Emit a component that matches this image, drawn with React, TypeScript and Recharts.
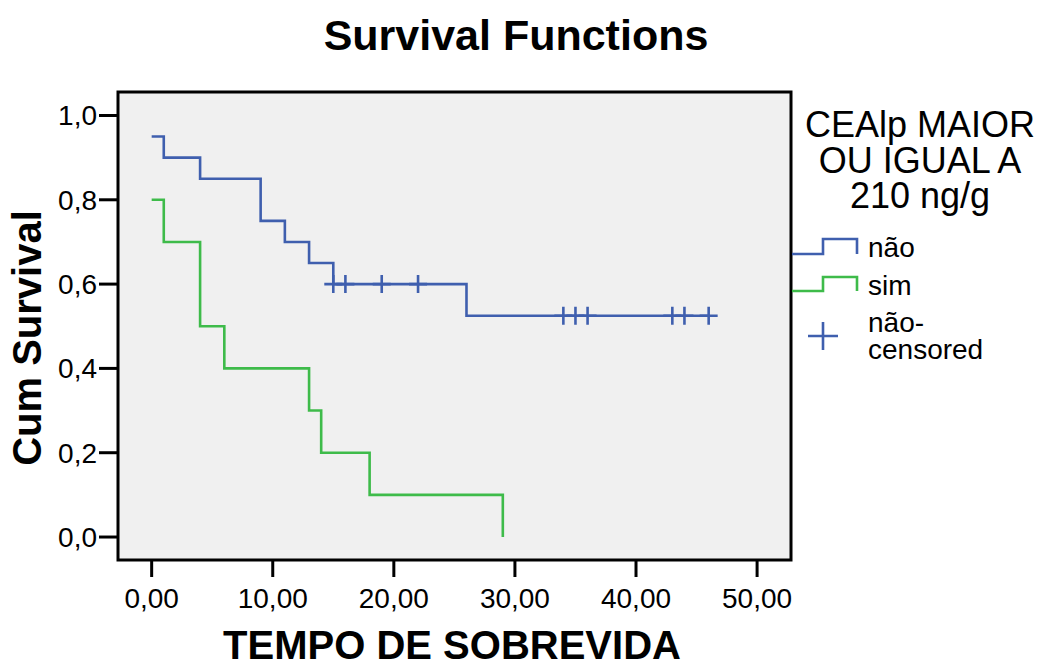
import React from "react";
import {
  ComposedChart,
  Line,
  Scatter,
  XAxis,
  YAxis,
  CartesianGrid,
  ReferenceArea,
} from "recharts";

// Kaplan-Meier step points (time, cumulative survival)
const naoTimes = [0, 1, 4, 9, 11, 13, 15, 26, 46];
const naoSurv = [0.95, 0.9, 0.85, 0.75, 0.7, 0.65, 0.6, 0.525, 0.525];
const simTimes = [0, 1, 4, 6, 13, 14, 18, 29];
const simSurv = [0.8, 0.7, 0.5, 0.4, 0.3, 0.2, 0.1, 0.0];
// censored observations in group "não"
const censTimes = [15, 16, 19, 22, 34, 35, 36, 43, 44, 46];
const censSurv = [0.6, 0.6, 0.6, 0.6, 0.525, 0.525, 0.525, 0.525, 0.525, 0.525];

const xTicks = [0, 10, 20, 30, 40, 50];
const yTicks = [0, 0.2, 0.4, 0.6, 0.8, 1.0];

const naoData = naoTimes.map((t, i) => ({ t, s: naoSurv[i] }));
const simData = simTimes.map((t, i) => ({ t, s: simSurv[i] }));
const censData = censTimes.map((t, i) => ({ t, s: censSurv[i] }));

const BLUE = "#3f5fae";
const GREEN = "#3ebb4a";
const FONT = "'Liberation Sans', Arial, sans-serif";

const X_DOMAIN: [number, number] = [-2.78, 52.8];
const Y_DOMAIN: [number, number] = [-0.0545, 1.0557];

const Plus = (props: any) => {
  const { cx, cy } = props;
  if (cx == null || cy == null) return null;
  return (
    <path
      d={`M${cx - 9},${cy}H${cx + 9}M${cx},${cy - 9}V${cy + 9}`}
      stroke={BLUE}
      strokeWidth={2.6}
      fill="none"
    />
  );
};

export default function App() {
  return (
    <div style={{ position: "absolute", left: 0, top: 0, width: 1037, height: 663, background: "#fff" }}>
      <ComposedChart
        width={1037}
        height={663}
        margin={{ top: 92, right: 246, bottom: 43, left: 18 }}
      >
        <CartesianGrid fill="#f0f0f0" horizontal={false} vertical={false} />
        <XAxis
          type="number"
          dataKey="t"
          domain={X_DOMAIN}
          allowDataOverflow
          ticks={xTicks}
          interval={0}
          height={60}
          axisLine={false}
          tickLine={{ stroke: "#000", strokeWidth: 3 }}
          tickSize={17}
          tickMargin={11}
          tick={{ fill: "#000", fontSize: 28, fontFamily: FONT }}
          tickFormatter={(v: number) => v.toFixed(2).replace(".", ",")}
        />
        <YAxis
          type="number"
          domain={Y_DOMAIN}
          allowDataOverflow
          ticks={yTicks}
          interval={0}
          width={100}
          axisLine={false}
          tickLine={{ stroke: "#000", strokeWidth: 3 }}
          tickSize={19}
          tickMargin={2}
          tick={{ fill: "#000", fontSize: 28, fontFamily: FONT }}
          tickFormatter={(v: number) => v.toFixed(1).replace(".", ",")}
        />
        <ReferenceArea
          x1={X_DOMAIN[0]}
          x2={X_DOMAIN[1]}
          y1={Y_DOMAIN[0]}
          y2={Y_DOMAIN[1]}
          fill="none"
          stroke="#000"
          strokeWidth={3}
          ifOverflow="visible"
        />
        <Line
          data={naoData}
          dataKey="s"
          type="stepAfter"
          stroke={BLUE}
          strokeWidth={2.6}
          dot={false}
          activeDot={false}
          isAnimationActive={false}
        />
        <Line
          data={simData}
          dataKey="s"
          type="stepAfter"
          stroke={GREEN}
          strokeWidth={2.6}
          dot={false}
          activeDot={false}
          isAnimationActive={false}
        />
        <Scatter
          data={censData}
          dataKey="s"
          shape={<Plus />}
          isAnimationActive={false}
        />
      </ComposedChart>
      <svg
        width={1037}
        height={663}
        style={{ position: "absolute", left: 0, top: 0, pointerEvents: "none" }}
      >
        <text x={516} y={50} textAnchor="middle" fontFamily={FONT} fontWeight="bold" fontSize={43} fill="#000">
          Survival Functions
        </text>
        <text x={452} y={659} textAnchor="middle" fontFamily={FONT} fontWeight="bold" fontSize={40} fill="#000">
          TEMPO DE SOBREVIDA
        </text>
        <text
          x={41}
          y={338}
          transform="rotate(-90 41 338)"
          textAnchor="middle"
          fontFamily={FONT}
          fontWeight="bold"
          fontSize={40}
          fill="#000"
        >
          Cum Survival
        </text>
        <g fontFamily={FONT} fill="#000">
          <text x={920} y={137} textAnchor="middle" fontSize={36}>CEAlp MAIOR</text>
          <text x={920} y={173} textAnchor="middle" fontSize={36}>OU IGUAL A</text>
          <text x={920} y={208} textAnchor="middle" fontSize={36}>210 ng/g</text>
          <text x={868} y={257} fontSize={28}>não</text>
          <text x={868} y={295} fontSize={28}>sim</text>
          <text x={868} y={332} fontSize={28}>não-</text>
          <text x={868} y={359} fontSize={28}>censored</text>
        </g>
        <path d="M792,254H823V239H857V254" stroke={BLUE} strokeWidth={2.6} fill="none" />
        <path d="M792,291H823V277H857V291" stroke={GREEN} strokeWidth={2.6} fill="none" />
        <path d="M808,336H838M823,322V350" stroke={BLUE} strokeWidth={2.6} fill="none" />
      </svg>
    </div>
  );
}
